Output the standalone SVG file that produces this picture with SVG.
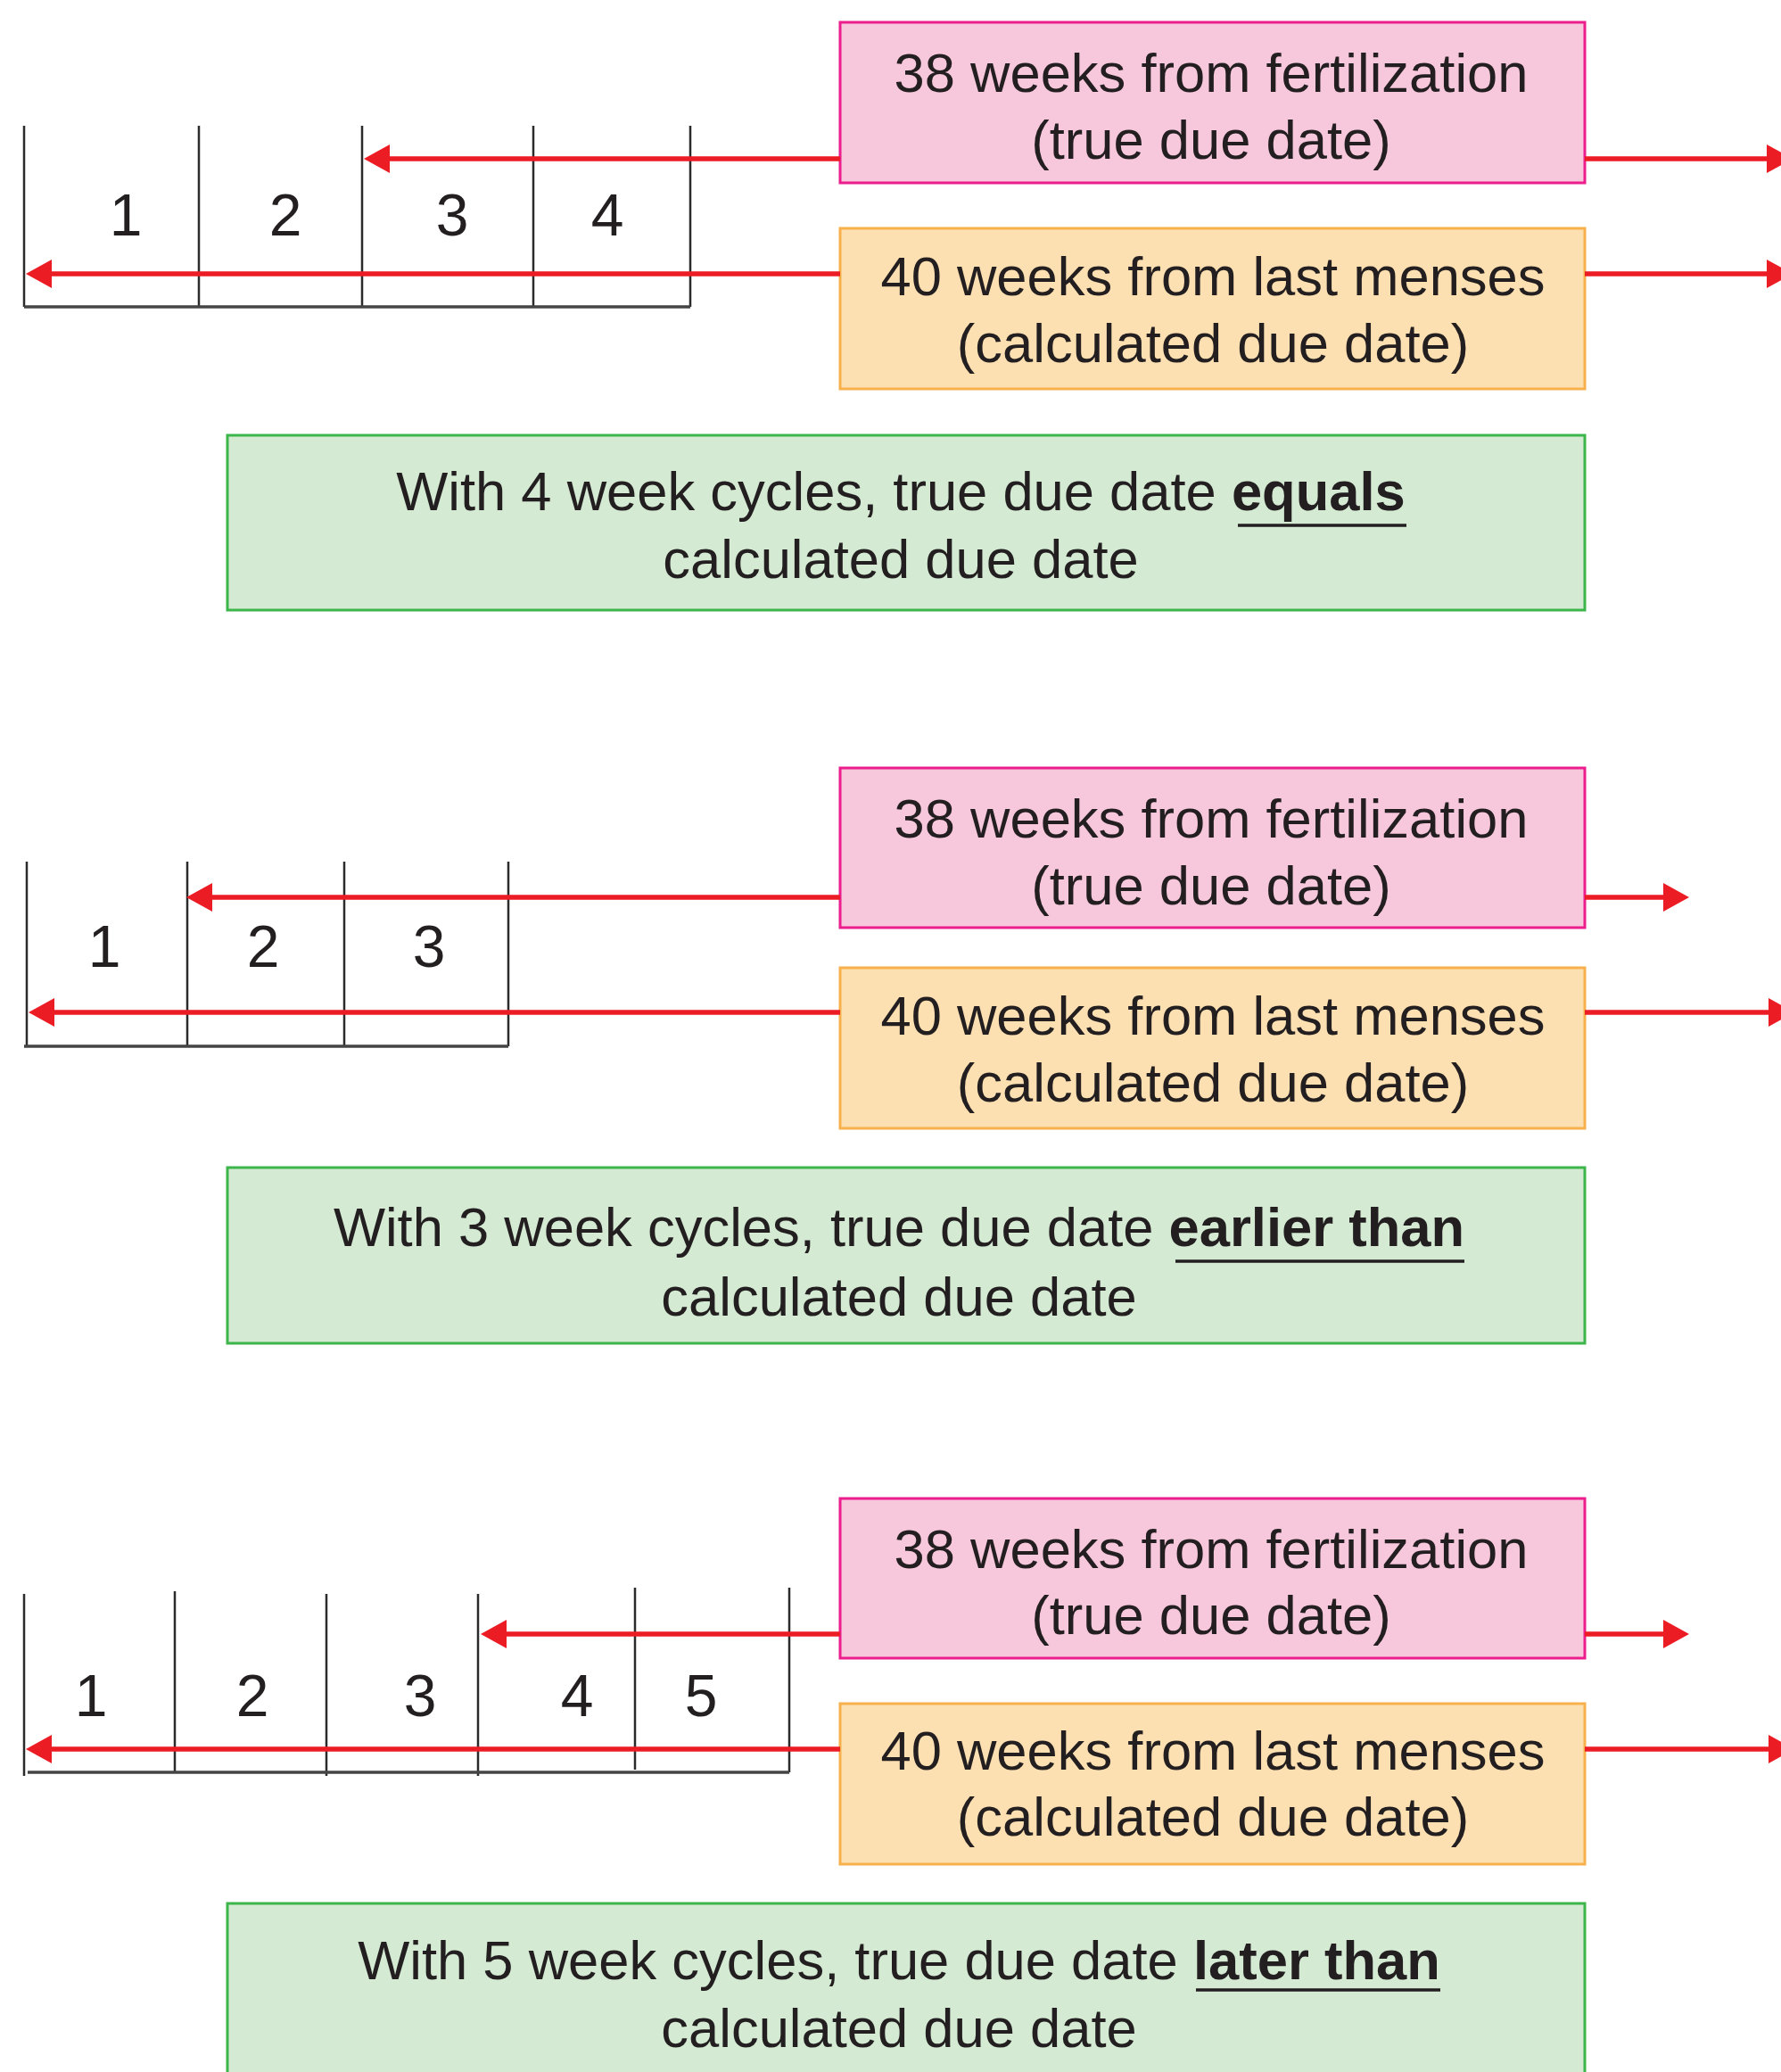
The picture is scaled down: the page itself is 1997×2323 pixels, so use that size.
<svg xmlns="http://www.w3.org/2000/svg" width="1997" height="2323" viewBox="0 0 1997 2323">
<style>
text{font-family:"Liberation Sans",Arial,sans-serif;fill:#231f20}
.lbl{font-size:61.5px;text-anchor:middle}
.num{font-size:66px;text-anchor:middle}
.b{font-weight:bold}
.pink{fill:#f7c7dc;stroke:#ec1d8c;stroke-width:3}
.orange{fill:#fde0b2;stroke:#f7b04c;stroke-width:3}
.green{fill:#d4ead3;stroke:#3cb54a;stroke-width:3}
.grid{stroke:#2b2b2b;stroke-width:2.5;fill:none}
.base{stroke:#444;stroke-width:3.5;fill:none}
.arr{stroke:#ec1c24;stroke-width:5.5;fill:none;marker-end:url(#ah)}
.ul{stroke:#231f20;stroke-width:3.5}
</style>
<defs>
<marker id="ah" markerUnits="userSpaceOnUse" markerWidth="29" markerHeight="32" refX="17" refY="16" orient="auto" overflow="visible">
<path d="M0,0 L29,16 L0,32 Z" fill="#ec1c24"/>
</marker>
</defs>
<rect width="1997" height="2323" fill="#fff"/>

<!-- Panel 1 -->
<g id="cycles-4">
<path class="grid" d="M27,141V344M223,141V344M406,141V344M598,141V344M774,141V344"/>
<path class="base" d="M27,344H774"/>
<text class="num" x="141" y="264">1</text>
<text class="num" x="320" y="264">2</text>
<text class="num" x="507" y="264">3</text>
<text class="num" x="681" y="264">4</text>
</g>
<g id="true-due-1">
<rect class="pink" x="942" y="25" width="835" height="180"/>
<text class="lbl" x="1358" y="103">38 weeks from fertilization</text>
<text class="lbl" x="1358" y="178">(true due date)</text>
</g>
<g id="calc-due-1">
<rect class="orange" x="942" y="256" width="835" height="180"/>
<text class="lbl" x="1360" y="331">40 weeks from last menses</text>
<text class="lbl" x="1360" y="406">(calculated due date)</text>
</g>
<g id="result-1">
<rect class="green" x="255" y="488" width="1522" height="196"/>
<text class="lbl" x="1010" y="572">With 4 week cycles, true due date <tspan class="b">equals</tspan></text>
<text class="lbl" x="1010" y="648">calculated due date</text>
<line class="ul" x1="1388" y1="589" x2="1577" y2="589"/>
</g>

<!-- Panel 2 -->
<g id="cycles-3">
<path class="grid" d="M30,966V1173M210,966V1173M386,966V1173M570,966V1173"/>
<path class="base" d="M27,1173H570"/>
<text class="num" x="117" y="1084">1</text>
<text class="num" x="295" y="1084">2</text>
<text class="num" x="481" y="1084">3</text>
</g>
<g id="true-due-2">
<rect class="pink" x="942" y="861" width="835" height="179"/>
<text class="lbl" x="1358" y="939">38 weeks from fertilization</text>
<text class="lbl" x="1358" y="1014">(true due date)</text>
</g>
<g id="calc-due-2">
<rect class="orange" x="942" y="1085" width="835" height="180"/>
<text class="lbl" x="1360" y="1160">40 weeks from last menses</text>
<text class="lbl" x="1360" y="1235">(calculated due date)</text>
</g>
<g id="result-2">
<rect class="green" x="255" y="1309" width="1522" height="197"/>
<text class="lbl" x="1008" y="1397">With 3 week cycles, true due date <tspan class="b">earlier than</tspan></text>
<text class="lbl" x="1008" y="1475">calculated due date</text>
<line class="ul" x1="1318" y1="1414" x2="1642" y2="1414"/>
</g>

<!-- Panel 3 -->
<g id="cycles-5">
<path class="grid" d="M27,1787V1991M196,1784V1987M366,1787V1991M536,1787V1991M712,1780V1984M885,1780V1987"/>
<path class="base" d="M31,1987H885"/>
<text class="num" x="102" y="1924">1</text>
<text class="num" x="283" y="1924">2</text>
<text class="num" x="471" y="1924">3</text>
<text class="num" x="647" y="1924">4</text>
<text class="num" x="786" y="1924">5</text>
</g>
<g id="true-due-3">
<rect class="pink" x="942" y="1680" width="835" height="179"/>
<text class="lbl" x="1358" y="1758">38 weeks from fertilization</text>
<text class="lbl" x="1358" y="1832">(true due date)</text>
</g>
<g id="calc-due-3">
<rect class="orange" x="942" y="1910" width="835" height="180"/>
<text class="lbl" x="1360" y="1984">40 weeks from last menses</text>
<text class="lbl" x="1360" y="2058">(calculated due date)</text>
</g>
<g id="result-3">
<rect class="green" x="255" y="2134" width="1522" height="210"/>
<text class="lbl" x="1008" y="2219">With 5 week cycles, true due date <tspan class="b">later than</tspan></text>
<text class="lbl" x="1008" y="2295">calculated due date</text>
<line class="ul" x1="1341" y1="2231" x2="1615" y2="2231"/>
</g>

<g id="connectors">
<line class="arr" x1="942" y1="178" x2="420" y2="178"/>
<line class="arr" x1="1777" y1="178" x2="1998" y2="178"/>
<line class="arr" x1="942" y1="307" x2="41" y2="307"/>
<line class="arr" x1="1777" y1="307" x2="1998" y2="307"/>
<line class="arr" x1="942" y1="1006" x2="221" y2="1006"/>
<line class="arr" x1="1777" y1="1006" x2="1882" y2="1006"/>
<line class="arr" x1="942" y1="1135" x2="44" y2="1135"/>
<line class="arr" x1="1777" y1="1135" x2="2000" y2="1135"/>
<line class="arr" x1="942" y1="1832" x2="551" y2="1832"/>
<line class="arr" x1="1777" y1="1832" x2="1882" y2="1832"/>
<line class="arr" x1="942" y1="1961" x2="41" y2="1961"/>
<line class="arr" x1="1777" y1="1961" x2="2000" y2="1961"/>
</g>
</svg>
